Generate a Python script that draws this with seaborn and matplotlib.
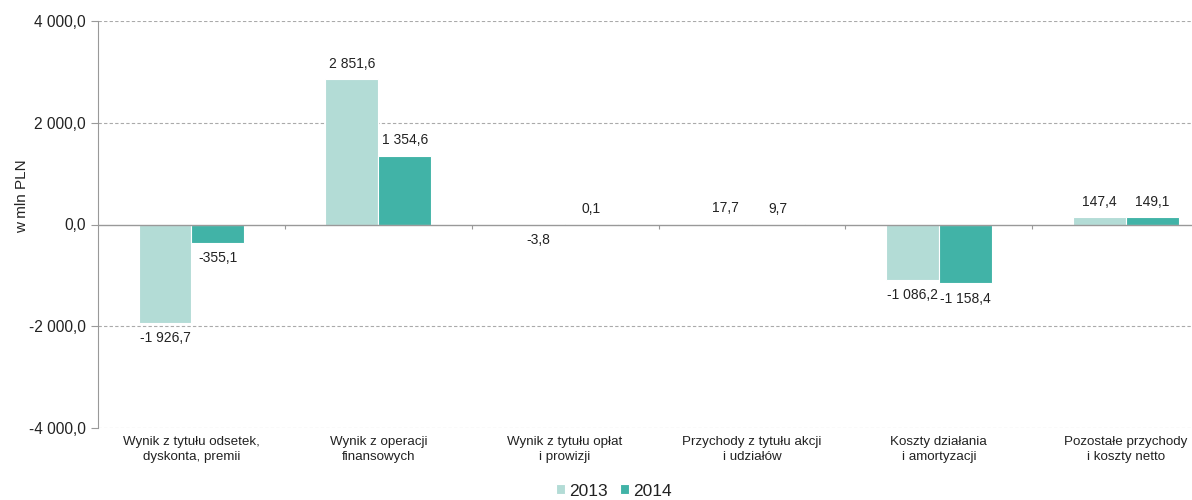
import matplotlib
matplotlib.use("Agg")
import matplotlib.pyplot as plt
import seaborn as sns
import pandas as pd
from matplotlib.ticker import FuncFormatter

categories = [
    "Wynik z tytułu odsetek,\ndyskonta, premii",
    "Wynik z operacji\nfinansowych",
    "Wynik z tytułu opłat\ni prowizji",
    "Przychody z tytułu akcji\ni udziałów",
    "Koszty działania\ni amortyzacji",
    "Pozostałe przychody\ni koszty netto",
]
years = ["2013", "2014"]
values_2013 = [-1926.7, 2851.6, -3.8, 17.7, -1086.2, 147.4]
values_2014 = [-355.1, 1354.6, 0.1, 9.7, -1158.4, 149.1]
y_ticks = [-4000, -2000, 0, 2000, 4000]
y_label = "w mln PLN"

colors = {"2013": "#B3DCD6", "2014": "#41B3A7"}

df = pd.DataFrame({
    "category": categories * 2,
    "year": [years[0]] * len(categories) + [years[1]] * len(categories),
    "value": values_2013 + values_2014,
})

def pl_fmt(v, pos=None):
    s = f"{abs(v):,.1f}".replace(",", " ").replace(".", ",")
    return ("-" if v < 0 else "") + s

sns.set_style("white")
plt.rcParams["font.family"] = ["Liberation Sans", "DejaVu Sans"]

fig = plt.figure(figsize=(11.92, 5.0), dpi=100)
ax = fig.add_axes([0.0822, 0.144, 0.9405, 0.814])

sns.barplot(data=df, x="category", y="value", hue="year", order=categories,
            hue_order=years, palette=colors, width=0.566, saturation=1,
            edgecolor="white", linewidth=0.8, ax=ax, legend=True)

ax.set_ylim(-4000, 4000)
ax.set_xlim(-0.5, len(categories) - 0.5)
ax.set_yticks(y_ticks)
ax.yaxis.set_major_formatter(FuncFormatter(pl_fmt))
ax.tick_params(axis="y", labelsize=11.2, labelcolor="#222222", length=5,
               width=0.8, direction="out", left=True, color="#999999", pad=4)
ax.tick_params(axis="x", length=0, labelsize=9.6, pad=6, labelcolor="#222222")
for t in ax.get_xticklabels():
    t.set_linespacing(1.35)
ax.set_xlabel("")
ax.set_ylabel(y_label, fontsize=11, color="#222222")
ax.yaxis.set_label_coords(-0.0616, 0.57)

for y in [-4000, -2000, 2000, 4000]:
    ax.axhline(y, color="#AAAAAA", lw=0.8, ls=(0, (3, 2)), zorder=0)
ax.axhline(0, color="#999999", lw=1.0, zorder=3)
for b in [i + 0.5 for i in range(len(categories) - 1)]:
    ax.vlines(b, -90, 0, color="#999999", lw=0.8, zorder=3)

for s in ["top", "right", "bottom"]:
    ax.spines[s].set_visible(False)
ax.spines["left"].set_color("#999999")
ax.spines["left"].set_linewidth(0.8)

for cont in ax.containers:
    for rect in cont:
        h = rect.get_height()
        x = rect.get_x() + rect.get_width() / 2
        if h >= 0:
            ax.annotate(pl_fmt(h), (x, h), xytext=(0, 6), textcoords="offset points",
                        ha="center", va="bottom", fontsize=10, color="#222222")
        else:
            ax.annotate(pl_fmt(h), (x, h), xytext=(0, -6), textcoords="offset points",
                        ha="center", va="top", fontsize=10, color="#222222")

leg = ax.legend(loc="center", bbox_to_anchor=(614 / 1192, 1 - 491 / 500),
                bbox_transform=fig.transFigure,
                ncol=2, frameon=False, fontsize=12.5, handlelength=0.5, handleheight=0.5,
                handletextpad=0.25, columnspacing=0.7, borderaxespad=0)
for t in leg.get_texts():
    t.set_color("#222222")

fig.savefig("out.png", dpi=100)
